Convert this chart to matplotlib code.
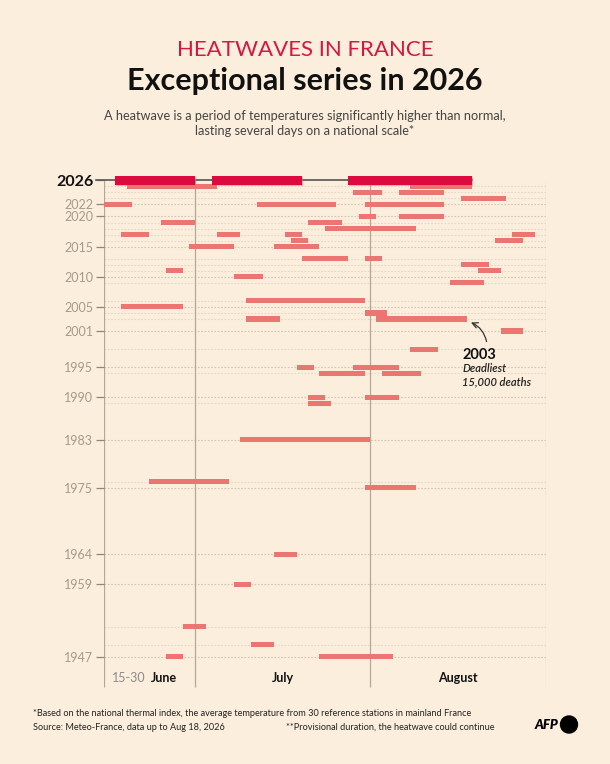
#!/usr/bin/python3
# Heatwaves in France - timeline of heatwave episodes per year
import datetime as dt
import matplotlib
matplotlib.use("Agg")
from matplotlib import pyplot as plt
from matplotlib import patheffects as pe
from matplotlib.patches import Ellipse

# heatwave episodes: year, first day, last day (inclusive)
years = [2025, 2025, 2024, 2024, 2023, 2022, 2022, 2022, 2020, 2020,
         2019, 2019, 2018, 2017, 2017, 2017, 2017, 2016, 2016, 2015,
         2015, 2013, 2013, 2012, 2011, 2011, 2010, 2009, 2006, 2005,
         2004, 2003, 2003, 2001, 1998, 1995, 1995, 1994, 1994, 1990,
         1990, 1989, 1983, 1976, 1975, 1964, 1959, 1952, 1949, 1947,
         1947]
starts = ["06-19", "08-08", "07-29", "08-06", "08-17", "06-15", "07-12", "07-31", "07-30", "08-06",
          "06-25", "07-21", "07-24", "06-18", "07-05", "07-17", "08-26", "07-18", "08-23", "06-30",
          "07-15", "07-20", "07-31", "08-17", "06-26", "08-20", "07-08", "08-15", "07-10", "06-18",
          "07-31", "07-10", "08-02", "08-24", "08-08", "07-19", "07-29", "07-23", "08-03", "07-21",
          "07-31", "07-21", "07-09", "06-23", "07-31", "07-15", "07-08", "06-29", "07-11", "06-26",
          "07-23"]
ends = ["07-04", "08-18", "08-02", "08-13", "08-24", "06-19", "07-25", "08-13", "08-01", "08-13",
        "06-30", "07-26", "08-08", "06-22", "07-08", "07-19", "08-29", "07-20", "08-27", "07-07",
        "07-22", "07-27", "08-02", "08-21", "06-28", "08-23", "07-12", "08-20", "07-30", "06-28",
        "08-03", "07-15", "08-17", "08-27", "08-12", "07-21", "08-05", "07-30", "08-09", "07-23",
        "08-05", "07-24", "07-31", "07-06", "08-08", "07-18", "07-10", "07-02", "07-14", "06-28",
        "08-04"]

# 2026 episodes
starts_2026 = ["06-17", "07-04", "07-28"]
ends_2026 = ["06-30", "07-19", "08-18"]
labels_2026 = ["14", "16", "22"]
suffix_2026 = ["days", "days", "days**"]

year_labels = [2026, 2022, 2020, 2015, 2010, 2005, 2001, 1995, 1990, 1983, 1975, 1964, 1959, 1947]

BG = "#FCEEDC"
BAR = "#EA7571"
RED = "#DC0A3E"
GREY = "#A89A88"

plt.rcParams['font.family'] = ['Lato', 'DejaVu Sans']


def day(s):
    # days since June 15
    d = dt.date(2026, int(s[:2]), int(s[3:]))
    return (d - dt.date(2026, 6, 15)).days


def main():
    fig = plt.figure(figsize=(6.1, 7.64), dpi=100, facecolor=BG)
    ax = fig.add_axes([104 / 610, 1 - 690 / 764, 442 / 610, 520 / 764])
    ax.set_facecolor(BG)
    ax.set_xlim(0, 78)
    ax.set_ylim(1941.47, 2027.71)
    for s in ax.spines.values():
        s.set_visible(False)
    ax.set_xticks([])

    # horizontal guides for every year with a heatwave
    rows = sorted(set(years))
    for y in rows:
        c = "#D3C5B2" if y in year_labels else "#E6D8C5"
        ax.plot([0, 78], [y, y], color=c, lw=0.8, ls=(0, (1.5, 1.5)), zorder=1)
    for y in year_labels[1:]:
        if y not in rows:
            ax.plot([0, 78], [y, y], color="#D3C5B2", lw=0.8, ls=(0, (1.5, 1.5)), zorder=1)

    # month separators
    ax.vlines([0, 16, 47], 1941.9, 2026, color="#B3A898", lw=0.9, zorder=1)
    ax.vlines([78], 1941.9, 2026, color="#E0D3C2", lw=0.9, zorder=1)

    # historical heatwaves
    left = [day(s) for s in starts]
    width = [day(e) + 1 - day(s) for s, e in zip(starts, ends)]
    ax.barh(years, width, left=left, height=0.85, color=BAR, zorder=2)

    # 2026
    l26 = [day(s) for s in starts_2026]
    w26 = [day(e) + 1 - day(s) for s, e in zip(starts_2026, ends_2026)]
    ax.plot([-1.4, l26[-1] + w26[-1]], [2026, 2026], color="#555555", lw=1.2,
            zorder=3, clip_on=False)
    bars = ax.barh([2026] * 3, w26, left=l26, height=1.5, color=RED, zorder=4)
    for b in bars:
        b.set_path_effects([pe.SimplePatchShadow(offset=(0.8, -1.2), shadow_rgbFace="#C98080",
                                                 alpha=0.5), pe.Normal()])
    for l, w, n, sfx in zip(l26, w26, labels_2026, suffix_2026):
        # two-style label: bold number + regular text
        shift = -4 if "*" in sfx else 0
        ax.annotate(n, xy=(l + w / 2, 2028.4), xytext=(shift - 1, 0), textcoords="offset points",
                    color=RED, fontsize=8.5, fontweight="bold", ha="right", va="center")
        ax.annotate(sfx, xy=(l + w / 2, 2028.4), xytext=(shift + 1, 0),
                    textcoords="offset points", color=RED, fontsize=8.5, ha="left", va="center")

    # y axis labels
    ax.set_yticks(year_labels)
    ax.set_yticklabels([str(y) for y in year_labels])
    ax.tick_params(axis="y", length=5.8, width=0.9, color="#8F8578", pad=2,
                   labelsize=9, labelcolor=GREY)
    lab = ax.get_yticklabels()[0]
    lab.set_fontweight("bold")
    lab.set_fontsize(11.5)
    lab.set_color("#111111")

    # month labels
    ax.text(7.4, 1943.46, "15-30", color="#8C8C8C", fontsize=9,
            ha="right", va="center")
    ax.text(8.2, 1943.46, "June", color="#111111", fontsize=9, fontweight="bold",
            ha="left", va="center")
    ax.text(31.5, 1943.46, "July", color="#111111", fontsize=9, fontweight="bold",
            ha="center", va="center")
    ax.text(62.5, 1943.46, "August", color="#111111", fontsize=9, fontweight="bold",
            ha="center", va="center")

    # 2003 annotation
    ax.annotate("", xy=(64.3, 2002.6), xytext=(67.6, 1998.8),
                arrowprops=dict(arrowstyle="->", color="#333333", lw=0.9,
                                connectionstyle="arc3,rad=0.3"))
    ax.text(63.2, 1997.1, "2003", fontsize=10.5, fontweight="bold", color="#111111",
            ha="left", va="center")
    ax.text(63.2, 1994.75, "Deadliest", fontsize=8, style="italic", fontweight="semibold",
            color="#222222", ha="left", va="center")
    ax.text(63.2, 1992.65, "15,000 deaths", fontsize=8, style="italic",
            fontweight="semibold", color="#222222", ha="left", va="center")

    # titles
    fig.text(0.5, 1 - 49.5 / 764, "HEATWAVES IN FRANCE", color="#D6173F", fontsize=16,
             ha="center", va="center")
    fig.text(0.5, 1 - 81 / 764, "Exceptional series in 2026", color="#111111", fontsize=22,
             fontweight="bold", ha="center", va="center")
    fig.text(0.5, 1 - 116 / 764, "A heatwave is a period of temperatures significantly higher than normal,",
             color="#444444", fontsize=9.2, ha="center", va="center")
    fig.text(0.5, 1 - 131 / 764, "lasting several days on a national scale*",
             color="#444444", fontsize=9.2, ha="center", va="center")

    # footer
    fig.text(33 / 610, 1 - 713 / 764,
             "*Based on the national thermal index, the average temperature from 30 reference stations in mainland France",
             color="#222222", fontsize=6.55, ha="left", va="center")
    fig.text(33 / 610, 1 - 727 / 764, "Source: Meteo-France, data up to Aug 18, 2026",
             color="#222222", fontsize=6.55, ha="left", va="center")
    fig.text(286 / 610, 1 - 727 / 764, "**Provisional duration, the heatwave could continue",
             color="#222222", fontsize=6.55, ha="left", va="center")
    fig.text(558 / 610, 1 - 725 / 764, "AFP", color="#000000", fontsize=9.5,
             fontweight="heavy", style="italic", ha="right", va="center")
    fig.patches.append(Ellipse((569 / 610, 1 - 724.5 / 764), 17 / 610, 17 / 764,
                               transform=fig.transFigure, color="#000000", figure=fig))

    fig.savefig("out.png", dpi=100, facecolor=BG)


if __name__ == '__main__':
    main()
